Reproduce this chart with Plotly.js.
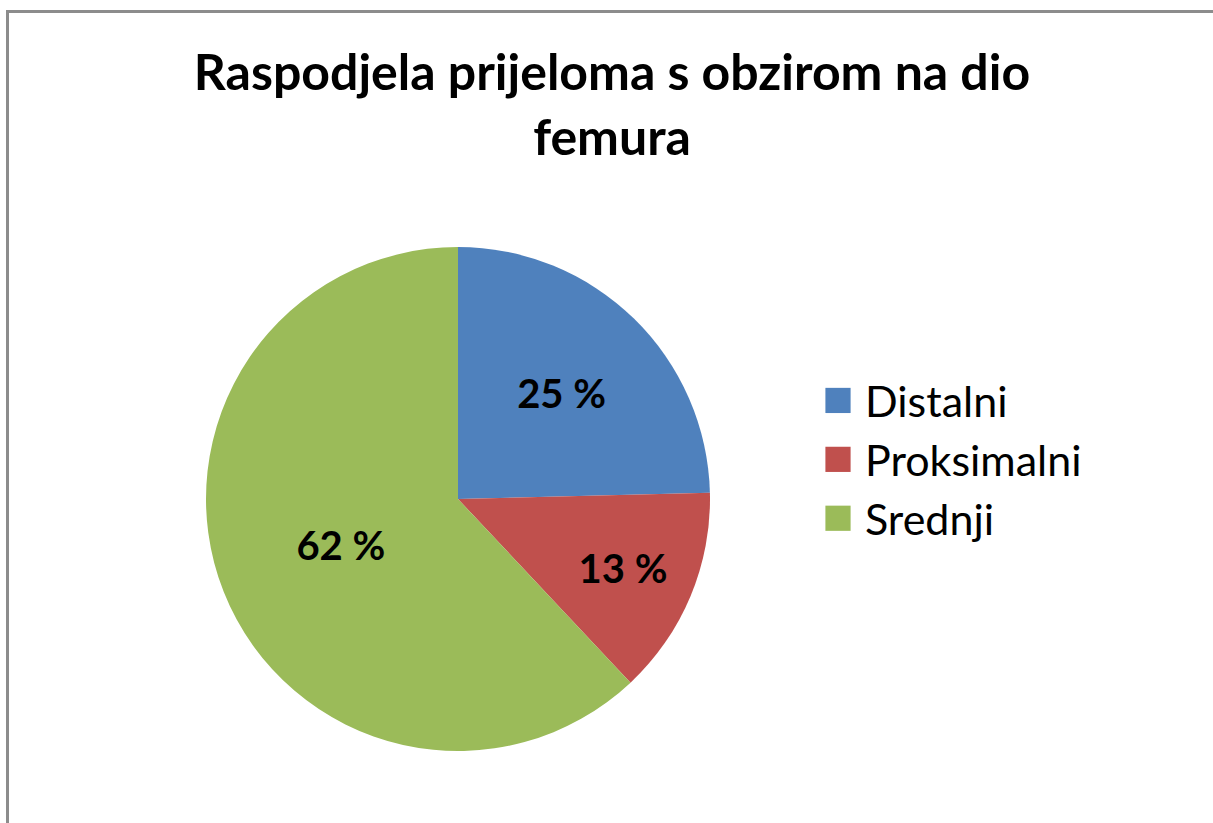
<!DOCTYPE html>
<html>
<head>
<meta charset="utf-8">
<script src="https://cdn.plot.ly/plotly-3.0.1.min.js"></script>
<style>
html,body{margin:0;padding:0;background:#fff;}
#chart{width:1213px;height:823px;}
</style>
</head>
<body>
<div id="chart"></div>
<script>
// Data
const categories = ["Distalni", "Proksimalni", "Srednji"];
const shares = [24.6, 13.4, 62.0];
const sliceColors = ["#4F81BD", "#C0504D", "#9BBB59"];
const labelTexts = shares.map(v => Math.round(v) + " %");

const W = 1213, H = 823;
const cx = 458, cy = 499, r = 252;

const trace = {
  type: "pie",
  labels: categories,
  values: shares,
  text: labelTexts,
  textinfo: "text",
  textposition: "inside",
  insidetextorientation: "horizontal",
  sort: false,
  direction: "clockwise",
  rotation: 0,
  marker: {colors: sliceColors, line: {width: 0}},
  textfont: {family: "Lato, 'Open Sans', sans-serif", size: 40, color: "#000", weight: 700},
  domain: {x: [(cx - r) / W, (cx + r) / W], y: [1 - (cy + r) / H, 1 - (cy - r) / H]},
  hoverinfo: "label+percent"
};

const frameColor = "#8c8c8c";
const layout = {
  width: W, height: H,
  margin: {l: 0, r: 0, t: 0, b: 0},
  paper_bgcolor: "#fff",
  title: {
    text: "<b>Raspodjela prijeloma s obzirom na dio<br>femura</b>",
    font: {family: "Lato, 'Open Sans', sans-serif", size: 50, color: "#000"},
    x: 612 / W, xanchor: "center",
    y: 1 - 90 / H, yanchor: "top"
  },
  showlegend: true,
  legend: {
    x: 818 / W, xanchor: "left",
    y: 1 - 366 / H, yanchor: "top",
    itemwidth: 37,
    font: {family: "Lato, 'Open Sans', sans-serif", size: 43, color: "#000"},
    bgcolor: "rgba(0,0,0,0)"
  },
  shapes: [
    {type: "line", xref: "paper", yref: "paper",
     x0: 7.5 / W, x1: 7.5 / W, y0: -0.02, y1: 1 - 11.5 / H,
     line: {color: frameColor, width: 3}, layer: "below"},
    {type: "line", xref: "paper", yref: "paper",
     x0: 6 / W, x1: 1.02, y0: 1 - 11.5 / H, y1: 1 - 11.5 / H,
     line: {color: frameColor, width: 3}, layer: "below"}
  ]
};

Plotly.newPlot("chart", [trace], layout, {displayModeBar: false, staticPlot: true}).then(() => {
  document.querySelectorAll("#chart .legendpoints path").forEach(p => {
    p.setAttribute("transform", "translate(20,0) scale(2.1)");
  });
});
</script>
</body>
</html>
